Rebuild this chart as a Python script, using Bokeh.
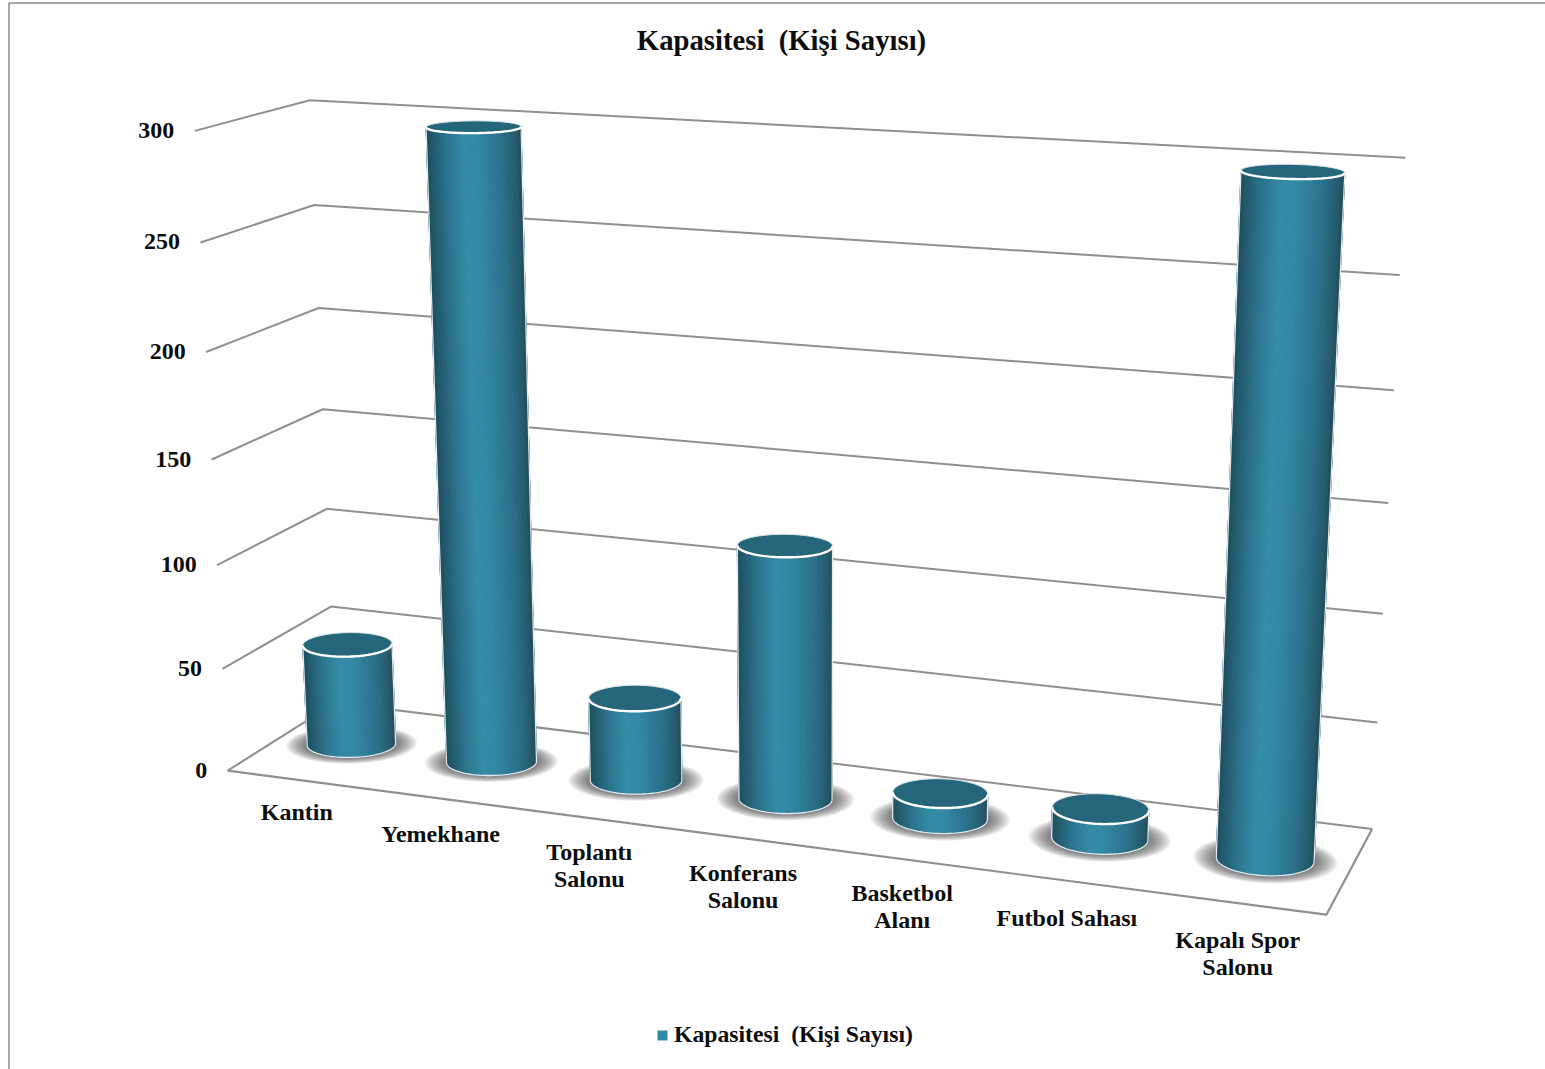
import numpy as np
from bokeh.plotting import figure
from bokeh.models import Range1d
from bokeh.core.properties import value
from bokeh.embed import file_html
from bokeh.resources import INLINE

# ---- data ----
title_text = "Kapasitesi \u00a0(Kişi Sayısı)"
categories = [["Kantin"], ["Yemekhane"], ["Toplantı", "Salonu"], ["Konferans", "Salonu"],
              ["Basketbol", "Alanı"], ["Futbol Sahası"], ["Kapalı Spor", "Salonu"]]
capacity = [50, 300, 40, 120, 12, 14, 300]
y_ticks = [0, 50, 100, 150, 200, 250, 300]

# ---- camera calibration: where the chart box lies on the page ----
front_left = [(228, 770), (222, 668), (216, 565), (211, 459), (205, 352), (200, 242), (195, 130)]
back_left = [(335, 702), (330, 606), (326, 509), (322, 409), (318, 307), (314, 204), (310, 100)]
back_right = [(1372, 828), (1377, 722), (1382, 614), (1388, 503), (1393, 390), (1399, 274), (1405, 157)]
front_right_floor = (1326, 914)
label_nudge = [-3, 0, -1, 0, -1, 2, 2]
N = len(categories)
VMAX = y_ticks[-1]

world, image = [], []
for k, t in enumerate(y_ticks):
    z = t / VMAX
    world += [(0, 0, z), (0, 1, z), (N, 1, z)]
    image += [front_left[k], back_left[k], back_right[k]]
world.append((N, 0, 0)); image.append(front_right_floor)
rows = []
for (X, Y, Z), (u, v) in zip(world, image):
    u, v = u / 1000, v / 1000
    X1 = [X, Y, Z, 1]
    rows.append(X1 + [0, 0, 0, 0] + [-u * c for c in X1])
    rows.append([0, 0, 0, 0] + X1 + [-v * c for c in X1])
M = np.linalg.svd(np.array(rows, float))[2][-1].reshape(3, 4)


def proj(x, y, v):
    x, y, v = np.broadcast_arrays(np.asarray(x, float), np.asarray(y, float), np.asarray(v, float))
    h = np.stack([x, y, v / VMAX, np.ones_like(x, dtype=float)])
    q = M @ h.reshape(4, -1)
    return (q[0] / q[2] * 1000).reshape(x.shape), (q[1] / q[2] * 1000).reshape(x.shape)


p = figure(width=1545, height=1069, output_backend="svg", toolbar_location=None,
           x_range=Range1d(0, 1545), y_range=Range1d(1069, 0), min_border=0)
p.axis.visible = False
p.grid.visible = False
p.outline_line_color = None
p.background_fill_color = "#ffffff"

SERIF = value("Liberation Serif")
GRID = "#8f8f8f"
INK = "#0d0d0d"

# outer chart frame
p.line([8.5, 8.5], [1069, 2.5], line_color="#8a8a8a", line_width=1.5)
p.line([8.5, 1545], [2.5, 2.5], line_color="#8a8a8a", line_width=1.5)

# walls
for t in y_ticks:
    xs, ys = proj([0, 0, N], [0, 1, 1], [t, t, t])
    p.line(xs, ys, line_color=GRID, line_width=2)
# floor
xs, ys = proj([0, N, N], [0, 0, 1], [0, 0, 0])
p.line(xs, ys, line_color=GRID, line_width=2.2)

RX, RY = 0.30, 0.19
theta = np.linspace(0, np.pi, 61)
full = np.linspace(0, 2 * np.pi, 121)
grad_t = [0.0, 0.06, 0.2, 0.45, 0.6, 0.8, 0.94, 1.0]
grad_r = [0x22, 0x25, 0x2b, 0x33, 0x36, 0x2c, 0x23, 0x1f]
grad_g = [0x4c, 0x5a, 0x70, 0x88, 0x8d, 0x73, 0x5a, 0x50]
grad_b = [0x5c, 0x6c, 0x89, 0xa4, 0xa9, 0x8c, 0x6e, 0x62]


def disc(i, v, angles, scale=1.0):
    """Ellipse of cylinder i at height v, on the page."""
    cx, cy = i + 0.5, 0.5
    x0, y0 = proj(cx, cy, v)
    xa, _ = proj(cx - RX, cy, v)
    xb, _ = proj(cx + RX, cy, v)
    _, yf = proj(cx, cy - RY, v)
    _, yb = proj(cx, cy + RY, v)
    widen = 1.07 - 0.10 * (float(x0) - 350) / 914
    a = abs(float(xb) - float(xa)) / 2 * scale * widen
    b = abs(float(yf) - float(yb)) / 2 * scale
    tilt = np.radians((-1.5 + 4.5 * (float(x0) - 350) / 914) * (1 - 0.6 * v / VMAX))
    ex, ey = a * np.cos(angles), b * np.sin(angles)
    return (float(x0) + ex * np.cos(tilt) - ey * np.sin(tilt),
            float(y0) + ex * np.sin(tilt) + ey * np.cos(tilt))


# shadows
for i in range(N):
    for s in np.linspace(1.48, 1.0, 16):
        xs, ys = disc(i, 0, full, s)
        p.patch(xs, ys, fill_color="#333333", fill_alpha=0.06, line_color=None)

# cylinders
for i, v in enumerate(capacity):
    bx, by = disc(i, 0, theta)
    tx, ty = disc(i, v, theta)
    sx, sy, cols = [], [], []
    for k in range(len(theta) - 1):
        sx.append([bx[k], bx[k + 1], tx[k + 1], tx[k]])
        sy.append([by[k], by[k + 1], ty[k + 1], ty[k]])
        tc = 1 - (np.cos(theta[k]) + np.cos(theta[k + 1]) + 2) / 4
        r = int(np.interp(tc, grad_t, grad_r))
        g = int(np.interp(tc, grad_t, grad_g))
        b = int(np.interp(tc, grad_t, grad_b))
        cols.append(f"#{r:02x}{g:02x}{b:02x}")
    p.patches(sx, sy, fill_color=cols, line_color=cols, line_width=1.0)
    # rim on the silhouette and base
    p.line(np.r_[tx[0], bx, tx[-1]], np.r_[ty[0], by, ty[-1]], line_color="#e4ebee", line_width=1.3)
    # top face
    ex, ey = disc(i, v, full)
    p.patch(ex, ey, fill_color="#25667a", line_color="#d9e6ea", line_width=1.0)
    p.line(tx, ty, line_color="#ffffff", line_width=2.4)

# tick labels
for k, t in enumerate(y_ticks):
    xs, ys = proj(0.0, 0.0, t)
    p.text([float(xs) - 20.5], [float(ys) - 0.5], text=[str(t)], text_font=SERIF, text_font_style="bold",
           text_font_size="24px", text_color=INK, text_align="right", text_baseline="middle")

# category labels
for i, lines in enumerate(categories):
    xs, ys = proj(i + 0.5, 0.0, 0.0)
    for j, line in enumerate(lines):
        p.text([float(xs) - 1], [float(ys) + 35 + label_nudge[i] + 27 * j], text=[line], text_font=SERIF,
               text_font_style="bold", text_font_size="24px", text_color=INK,
               text_align="center", text_baseline="middle")

# title
p.text([781], [39.5], text=[title_text], text_font=SERIF, text_font_style="bold", text_font_size="28.7px",
       text_color=INK, text_align="center", text_baseline="middle")

# legend
p.quad(left=[657], right=[667], top=[1030], bottom=[1040], fill_color="#338aa8", line_color=None)
p.text([673.5], [1033.5], text=[title_text], text_font=SERIF, text_font_style="bold", text_font_size="23.7px",
       text_color=INK, text_align="left", text_baseline="middle")

open("out.html", "w").write(file_html(p, INLINE))
